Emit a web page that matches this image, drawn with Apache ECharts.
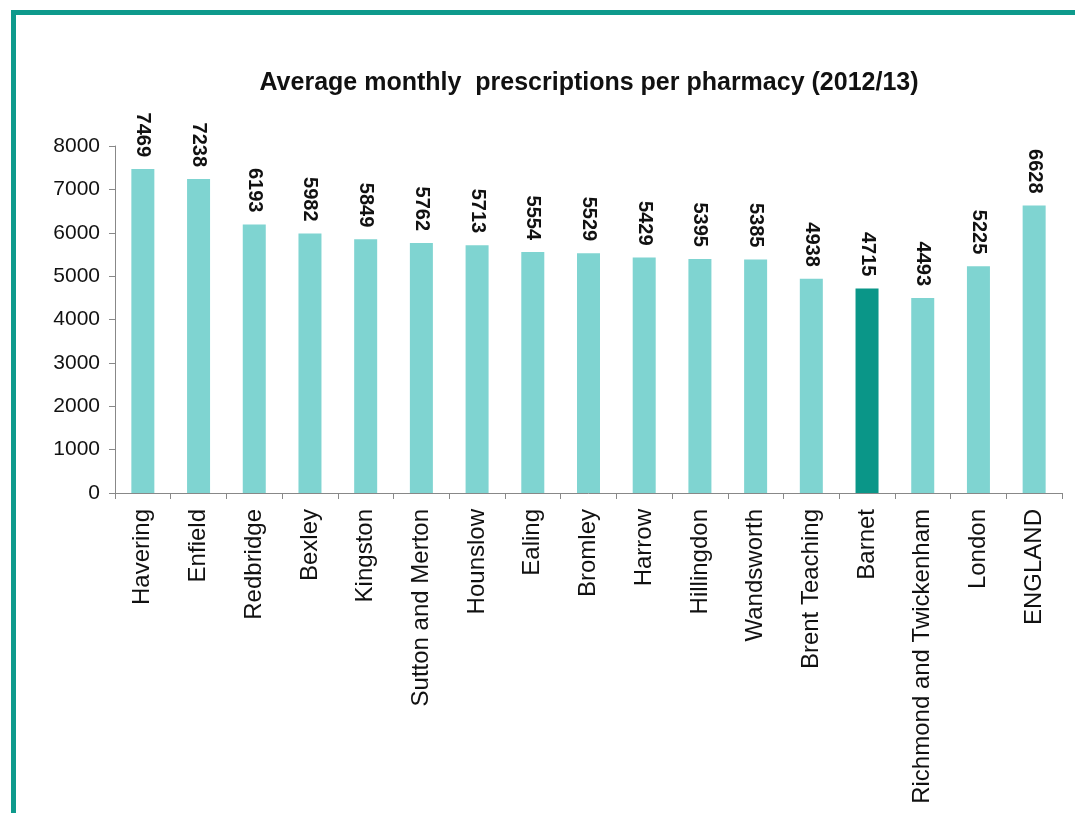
<!DOCTYPE html>
<html><head><meta charset="utf-8">
<script src="https://cdn.jsdelivr.net/npm/echarts@6/dist/echarts.min.js"></script>
<style>
html,body{margin:0;padding:0;background:#fff;}
#frame{position:absolute;left:11px;top:10px;width:1064px;height:803px;border-top:5px solid #0e9a8c;border-left:5px solid #0e9a8c;box-sizing:border-box;}
#c{position:absolute;left:0;top:0;width:1075px;height:813px;}
</style></head>
<body>
<div id="frame"></div>
<div id="c"></div>
<script>
const categories = ["Havering","Enfield","Redbridge","Bexley","Kingston","Sutton and Merton","Hounslow","Ealing","Bromley","Harrow","Hillingdon","Wandsworth","Brent Teaching","Barnet","Richmond and Twickenham","London","ENGLAND"];
const values = [7469,7238,6193,5982,5849,5762,5713,5554,5529,5429,5395,5385,4938,4715,4493,5225,6628];
const highlight = "Barnet";
const chart = echarts.init(document.getElementById('c'));
chart.setOption({
  animation:false,
  title:{text:"Average monthly  prescriptions per pharmacy (2012/13)",left:584,top:66,textAlign:'center',
    textStyle:{fontFamily:'Liberation Sans',fontSize:25,fontWeight:'bold',color:'#111'}},
  grid:{left:115,right:13,top:146,bottom:320},
  xAxis:{type:'category',data:categories,
    axisLine:{lineStyle:{color:'#888'}},
    axisTick:{show:true,length:6,lineStyle:{color:'#888'}},
    axisLabel:{rotate:90,interval:0,fontFamily:'Liberation Sans',fontSize:24,color:'#111',margin:16}},
  yAxis:{type:'value',min:0,max:8000,interval:1000,
    axisLine:{show:true,lineStyle:{color:'#888'}},
    axisTick:{show:true,length:6,lineStyle:{color:'#888'}},
    splitLine:{show:false},
    axisLabel:{fontFamily:'Liberation Sans',fontSize:21,color:'#111',margin:15,formatter:v=>String(v)}},
  series:[{type:'bar',barWidth:23,
    data:values.map((v,i)=>({value:v,itemStyle:{color:categories[i]===highlight?'#0a9688':'#7fd4d1'}})),
    label:{show:true,position:'top',rotate:-90,align:'right',verticalAlign:'middle',distance:12,
      fontFamily:'Liberation Sans',fontSize:20,fontWeight:'bold',color:'#111'}}]
});
</script>
</body></html>
